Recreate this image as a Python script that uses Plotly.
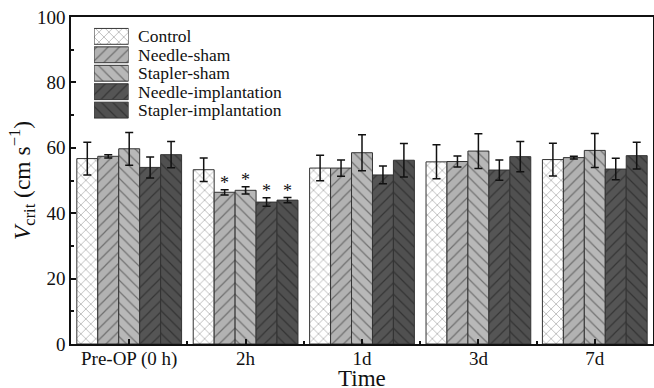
import plotly.graph_objects as go

categories = ["Pre-OP (0 h)", "2h", "1d", "3d", "7d"]
series_names = ["Control", "Needle-sham", "Stapler-sham", "Needle-implantation", "Stapler-implantation"]

control = [56.7, 53.3, 53.8, 55.7, 56.4]
control_sd = [5.0, 3.6, 3.9, 5.2, 5.0]
needle_sham = [57.4, 46.4, 53.8, 55.8, 57.0]
needle_sham_sd = [0.5, 0.8, 2.5, 1.7, 0.4]
stapler_sham = [59.7, 47.0, 58.5, 59.0, 59.2]
stapler_sham_sd = [5.0, 1.1, 5.5, 5.3, 5.2]
needle_impl = [54.0, 43.4, 51.7, 53.2, 53.5]
needle_impl_sd = [3.2, 1.3, 2.7, 3.1, 3.3]
stapler_impl = [57.9, 44.0, 56.2, 57.3, 57.6]
stapler_impl_sd = [4.0, 0.8, 5.1, 4.6, 4.1]

# significance markers: (category index, series index)
significant = [(1, 1), (1, 2), (1, 3), (1, 4)]

values = [control, needle_sham, stapler_sham, needle_impl, stapler_impl]
errors = [control_sd, needle_sham_sd, stapler_sham_sd, needle_impl_sd, stapler_impl_sd]

styles = [
    dict(bg="#ffffff", fg="#555555", shape="x", size=7, sol=0.2),
    dict(bg="#b2b2b2", fg="#2a2a2a", shape="/", size=8, sol=0.15),
    dict(bg="#b8b8b8", fg="#2a2a2a", shape="\\", size=8, sol=0.15),
    dict(bg="#555555", fg="#161616", shape="/", size=8, sol=0.15),
    dict(bg="#505050", fg="#161616", shape="\\", size=8, sol=0.15),
]

FONT = "Liberation Serif, Times New Roman, serif"
TXT = "#111111"
xpos = list(range(len(categories)))


def marker_for(st):
    return dict(
        color=st["bg"],
        line=dict(color="#333333", width=1),
        pattern=dict(shape=st["shape"], fgcolor=st["fg"], bgcolor=st["bg"],
                     size=st["size"], solidity=st["sol"], fillmode="overlay"),
    )


fig = go.Figure()
for name, vals, errs, st in zip(series_names, values, errors, styles):
    fig.add_trace(go.Bar(
        name=name, x=xpos, y=vals, showlegend=False, xaxis="x", yaxis="y",
        error_y=dict(type="data", array=errs, visible=True, color=TXT, thickness=1.5, width=4),
        marker=marker_for(st),
    ))

# custom legend: one patch per series on a small inset axis
for i, (name, st) in enumerate(zip(series_names, styles)):
    fig.add_trace(go.Bar(
        name=name, x=[1], y=[i], orientation="h", width=0.86, showlegend=False,
        xaxis="x2", yaxis="y2", hoverinfo="skip", marker=marker_for(st),
    ))

nser = len(series_names)
bargap = 0.1
bw = (1 - bargap) / nser
annotations = []
for ci, si in significant:
    xc = ci - (1 - bargap) / 2 + bw * (si + 0.5)
    annotations.append(dict(
        x=xc, y=values[si][ci] + errors[si][ci], xref="x", yref="y",
        text="*", showarrow=False, yanchor="bottom", yshift=-5,
        font=dict(family=FONT, size=18, color=TXT),
    ))
for i, name in enumerate(series_names):
    annotations.append(dict(
        x=0.112, y=i, xref="paper", yref="y2", text=name, showarrow=False,
        xanchor="left", yanchor="middle", font=dict(family=FONT, size=17.5, color=TXT),
    ))
# axis titles
annotations.append(dict(
    x=0.5, y=-0.106, xref="paper", yref="paper", text="Time", showarrow=False,
    xanchor="center", yanchor="middle", font=dict(family=FONT, size=23, color=TXT),
))
annotations.append(dict(
    x=-0.085, y=0.5, xref="paper", yref="paper",
    text="<i>V</i><sub>crit</sub> (cm s<sup>−1</sup>)", showarrow=False, textangle=-90,
    xanchor="center", yanchor="middle", font=dict(family=FONT, size=23.5, color=TXT),
))

common = dict(ticks="inside", ticklen=5, tickwidth=1.5, tickcolor=TXT,
              showline=True, linecolor=TXT, linewidth=1.5, mirror=True,
              showgrid=False, zeroline=False, automargin=False,
              tickfont=dict(family=FONT, size=19, color=TXT))

fig.update_layout(
    width=654, height=388,
    margin=dict(l=71, r=1, t=17, b=44),
    paper_bgcolor="white", plot_bgcolor="white",
    barmode="group", bargap=bargap, bargroupgap=0,
    font=dict(family=FONT, size=19, color=TXT),
    showlegend=False,
    annotations=annotations,
    xaxis=dict(
        domain=[0, 1], anchor="y",
        range=[-0.5, 4.5], tickmode="array", tickvals=xpos, ticktext=categories,
        ticklabelstandoff=-4,
        minor=dict(tickmode="array", tickvals=[0.5, 1.5, 2.5, 3.5], ticks="inside", ticklen=3, tickcolor=TXT),
        **common,
    ),
    yaxis=dict(
        domain=[0, 1], anchor="x",
        range=[0, 100], tickmode="linear", tick0=0, dtick=20,
        minor=dict(tick0=10, dtick=20, ticks="inside", ticklen=3, tickcolor=TXT),
        **common,
    ),
    xaxis2=dict(domain=[0.0396, 0.099], anchor="y2", range=[0, 1], visible=False, fixedrange=True),
    yaxis2=dict(domain=[0.687, 0.969], anchor="x2", range=[4.5, -0.5], visible=False, fixedrange=True),
)

fig.write_html("out.html", config={"displayModeBar": False},
               post_script="document.body.style.margin='0';document.body.style.overflow='hidden';")
